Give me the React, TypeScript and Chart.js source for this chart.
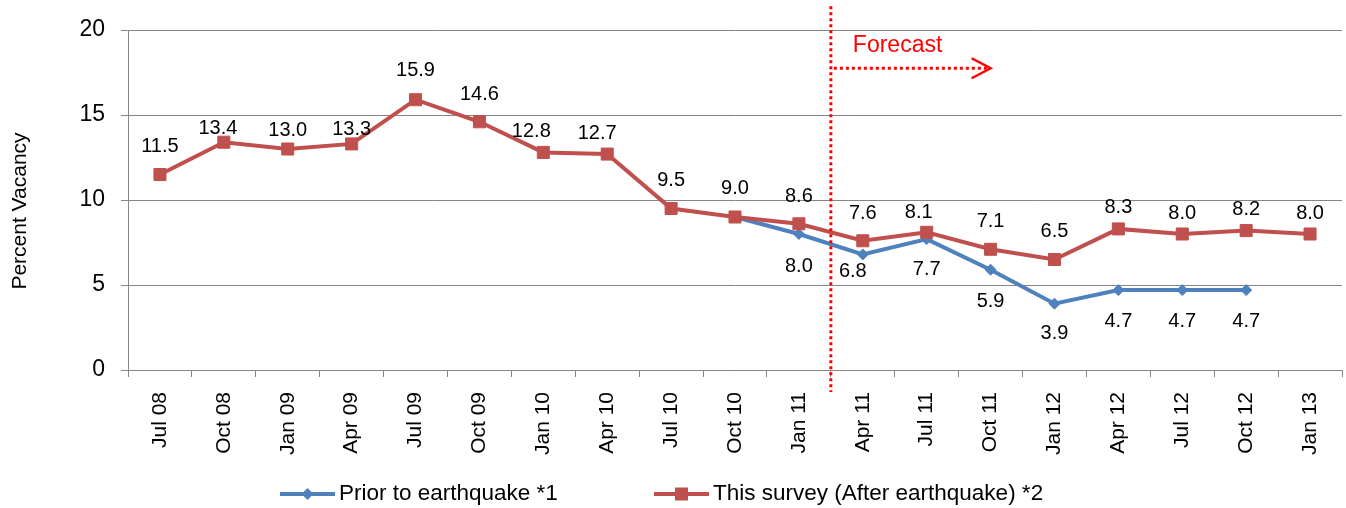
import React, { useEffect, useRef } from "react";
import { Chart, registerables } from "chart.js";

Chart.register(...registerables);

// ---------- data ----------
const categories = [
  "Jul 08", "Oct 08", "Jan 09", "Apr 09", "Jul 09", "Oct 09", "Jan 10", "Apr 10",
  "Jul 10", "Oct 10", "Jan 11", "Apr 11", "Jul 11", "Oct 11", "Jan 12", "Apr 12",
  "Jul 12", "Oct 12", "Jan 13",
];
const priorValues: (number | null)[] = [
  null, null, null, null, null, null, null, null, null,
  9.0, 8.0, 6.8, 7.7, 5.9, 3.9, 4.7, 4.7, 4.7, null,
];
const surveyValues: (number | null)[] = [
  11.5, 13.4, 13.0, 13.3, 15.9, 14.6, 12.8, 12.7, 9.5, 9.0,
  8.6, 7.6, 8.1, 7.1, 6.5, 8.3, 8.0, 8.2, 8.0,
];
const yTicks = [0, 5, 10, 15, 20];
const seriesNames = ["Prior to earthquake *1", "This survey (After earthquake) *2"];
const yTitle = "Percent Vacancy";
const forecastLabel = "Forecast";
const forecastStart = 10.5; // boundary between Jan 11 and Apr 11
const forecastArrowEnd = 13; // arrow reaches Oct 11

// ---------- label placement (style only) ----------
const surveyLabelLift = [28, 14, 19, 14, 29, 27, 21, 21, 28, 29, 27, 27, 20, 28, 28, 21, 21, 21, 21];
const surveyLabelShift = [0, -6, 0, 0, 0, 0, -12, -10, 0, 0, 0, 0, -8, 0, 0, 0, 0, 0, 0];
const priorLabelDrop = [0, 0, 0, 0, 0, 0, 0, 0, 0, 0, 32, 17, 30, 32, 30, 31, 31, 31, 0];
const priorLabelShift = [0, 0, 0, 0, 0, 0, 0, 0, 0, 0, 0, -10, 0, 0, 0, 0, 0, 0, 0];

const BLUE = "#4F81BD";
const RED = "#C0504D";
const GRID = "#868686";
const FONT = '"Liberation Sans", Arial, sans-serif';

const overlayPlugin = {
  id: "overlay",
  afterDatasetsDraw(chart: any) {
    const ctx = chart.ctx as CanvasRenderingContext2D;
    const xs = chart.scales.x;
    const ys = chart.scales.y;
    ctx.save();

    // data labels
    ctx.font = `20px ${FONT}`;
    ctx.fillStyle = "#000";
    ctx.textAlign = "center";
    ctx.textBaseline = "middle";
    const redMeta = chart.getDatasetMeta(1);
    redMeta.data.forEach((pt: any, i: number) => {
      const v = surveyValues[i];
      if (v == null) return;
      ctx.fillText(v.toFixed(1), pt.x + surveyLabelShift[i], pt.y - surveyLabelLift[i]);
    });
    const blueMeta = chart.getDatasetMeta(0);
    blueMeta.data.forEach((pt: any, i: number) => {
      const v = priorValues[i];
      if (v == null || !priorLabelDrop[i]) return;
      ctx.fillText(v.toFixed(1), pt.x + priorLabelShift[i], pt.y + priorLabelDrop[i]);
    });

    // y axis title
    ctx.save();
    ctx.translate(20, (ys.top + ys.bottom) / 2 + 11);
    ctx.rotate(-Math.PI / 2);
    ctx.font = `21px ${FONT}`;
    ctx.fillText(yTitle, 0, 0);
    ctx.restore();

    // forecast marker
    const fx = xs.getPixelForValue(forecastStart);
    ctx.strokeStyle = "#FF0000";
    ctx.lineWidth = 3;
    ctx.setLineDash([3, 3]);
    ctx.beginPath();
    ctx.moveTo(fx, ys.getPixelForValue(21.4));
    ctx.lineTo(fx, ys.getPixelForValue(-1.3));
    ctx.stroke();
    const ay = ys.getPixelForValue(17.75);
    const ax2 = xs.getPixelForValue(forecastArrowEnd);
    ctx.beginPath();
    ctx.moveTo(fx + 3, ay);
    ctx.lineTo(ax2 - 3, ay);
    ctx.stroke();
    ctx.setLineDash([]);
    ctx.lineWidth = 2.5;
    ctx.beginPath();
    ctx.moveTo(ax2 - 19, ay - 10);
    ctx.lineTo(ax2, ay);
    ctx.lineTo(ax2 - 19, ay + 10);
    ctx.stroke();
    ctx.fillStyle = "#FF0000";
    ctx.font = `23px ${FONT}`;
    ctx.textAlign = "left";
    ctx.fillText(forecastLabel, fx + 22, ys.getPixelForValue(19.1));

    // legend
    const ly = 494;
    const items = [
      { x: 280, color: BLUE, label: seriesNames[0], marker: "diamond" },
      { x: 654, color: RED, label: seriesNames[1], marker: "square" },
    ];
    ctx.font = `22.5px ${FONT}`;
    ctx.textBaseline = "middle";
    items.forEach((it) => {
      ctx.strokeStyle = it.color;
      ctx.fillStyle = it.color;
      ctx.lineWidth = 4;
      ctx.beginPath();
      ctx.moveTo(it.x, ly);
      ctx.lineTo(it.x + 55, ly);
      ctx.stroke();
      const cx = it.x + 27.5;
      ctx.beginPath();
      if (it.marker === "diamond") {
        ctx.moveTo(cx, ly - 6);
        ctx.lineTo(cx + 6, ly);
        ctx.lineTo(cx, ly + 6);
        ctx.lineTo(cx - 6, ly);
        ctx.closePath();
      } else {
        ctx.rect(cx - 6.5, ly - 6.5, 13, 13);
      }
      ctx.fill();
      ctx.fillStyle = "#000";
      ctx.fillText(it.label, it.x + 59, ly);
    });

    ctx.restore();
  },
};

export default function App() {
  const ref = useRef<HTMLCanvasElement | null>(null);
  useEffect(() => {
    document.body.style.margin = "0";
    if (!ref.current) return;
    const chart = new Chart(ref.current, {
      type: "line",
      data: {
        labels: categories,
        datasets: [
          {
            label: seriesNames[0],
            data: priorValues,
            borderColor: BLUE,
            backgroundColor: BLUE,
            borderWidth: 4,
            pointStyle: "rectRot",
            pointRadius: 5.5,
            pointBorderWidth: 1,
            pointBackgroundColor: BLUE,
            pointBorderColor: BLUE,
            tension: 0,
            order: 1,
          },
          {
            label: seriesNames[1],
            data: surveyValues,
            borderColor: RED,
            backgroundColor: RED,
            borderWidth: 4,
            pointStyle: "rect",
            pointRadius: 8.5,
            pointBorderWidth: 1,
            pointBackgroundColor: RED,
            pointBorderColor: RED,
            tension: 0,
            order: 0,
          },
        ],
      },
      options: {
        responsive: false,
        animation: false,
        events: [],
        layout: { autoPadding: false, padding: { left: 0, right: 4, top: 30, bottom: 48 } },
        plugins: {
          legend: { display: false },
          tooltip: { enabled: false },
        },
        scales: {
          x: {
            type: "category",
            offset: true,
            grid: {
              display: true,
              drawOnChartArea: false,
              drawTicks: true,
              tickLength: 7,
              color: GRID,
              offset: true,
            },
            border: { display: true, color: GRID, width: 1 },
            ticks: {
              autoSkip: false,
              minRotation: 90,
              maxRotation: 90,
              padding: 15,
              color: "#000",
              font: { family: FONT, size: 21, lineHeight: 0.6 },
            },
            afterFit: (s: any) => {
              s.height = 90;
              s.paddingLeft = 0;
              s.paddingRight = 0;
            },
          },
          y: {
            min: 0,
            max: 20,
            afterBuildTicks: (s: any) => {
              s.ticks = yTicks.map((v) => ({ value: v }));
            },
            grid: {
              color: GRID,
              lineWidth: 1,
              drawTicks: true,
              tickLength: 7,
            },
            border: { display: true, color: GRID, width: 1 },
            ticks: {
              padding: 16,
              color: "#000",
              font: { family: FONT, size: 23 },
            },
            afterFit: (s: any) => {
              s.width = 128;
              s.paddingTop = 0;
              s.paddingBottom = 0;
            },
          },
        },
      },
      plugins: [overlayPlugin],
    });
    return () => chart.destroy();
  }, []);
  return (
    <div style={{ width: 1346, height: 508 }}>
      <canvas ref={ref} width={1346} height={508} style={{ display: "block" }} />
    </div>
  );
}
